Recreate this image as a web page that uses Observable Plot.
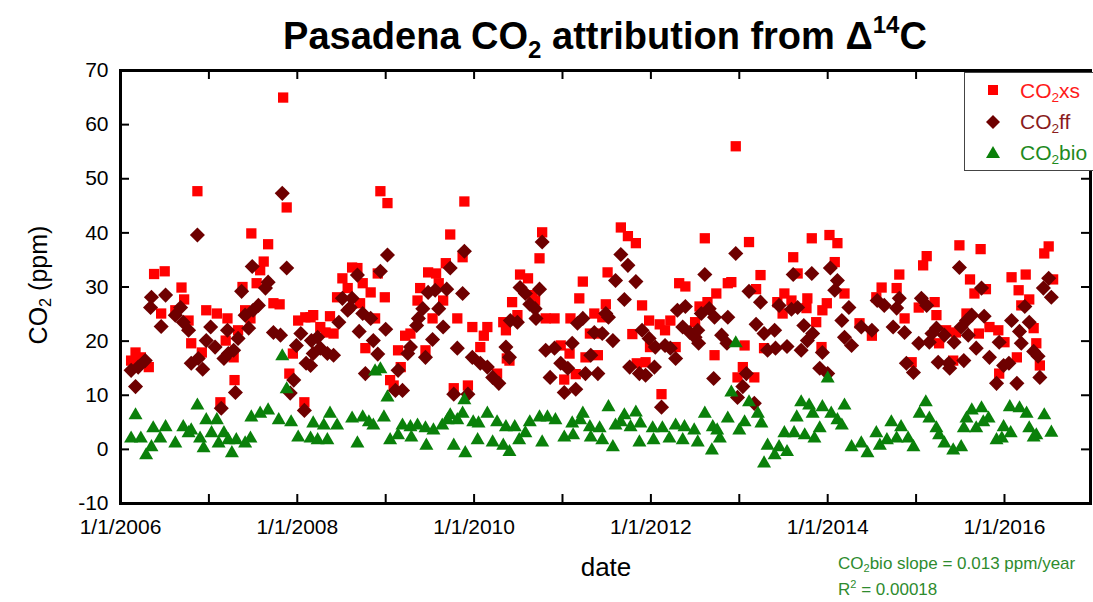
<!DOCTYPE html>
<html>
<head>
<meta charset="utf-8">
<script src="https://cdn.jsdelivr.net/npm/d3@7"></script>
<script src="https://cdn.jsdelivr.net/npm/@observablehq/plot@0.6"></script>
<style>
  html, body { margin: 0; padding: 0; background: #fff; }
  #wrap { position: relative; width: 1093px; height: 602px; overflow: hidden; font-family: "Liberation Sans", Arial, Helvetica, sans-serif; }
  #wrap svg.plot { position: absolute; left: 0; top: 0; }
  .abs { position: absolute; white-space: nowrap; }
  #title { left: 120px; width: 970px; top: 14px; text-align: center; font-weight: bold; font-size: 38px; line-height: 44px; }
  #title sub { font-size: 24px; vertical-align: -9px; line-height: 0; }
  #title sup { font-size: 24px; vertical-align: 16px; line-height: 0; }
  #ylab { left: 38px; top: 285px; transform: translate(-50%, -50%) rotate(-90deg); font-size: 25px; }
  #ylab sub, #legend sub, .note sub { font-size: 65%; vertical-align: -0.3em; line-height: 0; }
  .note sup { font-size: 65%; vertical-align: 0.6em; line-height: 0; }
  #xlab { left: 606px; top: 567px; transform: translate(-50%, -50%); font-size: 26px; }
  #legend { left: 964px; top: 72px; width: 160px; height: 97px; border: 1.3px solid #444; background: #fff; }
  .lg { position: absolute; left: 55px; font-size: 21px; line-height: 21px; }
  .note { left: 838px; font-size: 17px; color: #2e8b2e; }
</style>
</head>
<body>
<div id="wrap">
  <div id="title" class="abs">Pasadena CO<sub>2</sub> attribution from Δ<sup>14</sup>C</div>
  <div id="ylab" class="abs">CO<sub>2</sub> (ppm)</div>
  <div id="xlab" class="abs">date</div>
  <div id="legend" class="abs">
    <svg width="60" height="97" style="position:absolute;left:0;top:0">
      <rect x="23" y="12" width="10" height="10" fill="#ff0000"></rect>
      <path d="M28,42 L35,49 L28,56 L21,49 Z" fill="#6e0000"></path>
      <path d="M28,73 L35,85 L21,85 Z" fill="#0a800a"></path>
    </svg>
    <div class="lg" style="top:7px;color:#ff1a1a">CO<sub>2</sub>xs</div>
    <div class="lg" style="top:38px;color:#8a1c1c">CO<sub>2</sub>ff</div>
    <div class="lg" style="top:69px;color:#1e8a1e">CO<sub>2</sub>bio</div>
  </div>
  <div class="abs note" style="top:554px">CO<sub>2</sub>bio slope = 0.013 ppm/year</div>
  <div class="abs note" style="top:580px">R<sup>2</sup> = 0.00018</div>
</div>
<script>
// ---- data: [decimal year, ppm] ----
const co2xs = [
[2006.12,16.4],[2006.17,17.9],[2006.23,17.0],[2006.32,15.2],[2006.38,32.4],[2006.46,25.1],[2006.50,32.9],[2006.62,25.7],
[2006.69,29.9],[2006.72,27.7],[2006.77,23.8],[2006.80,19.6],[2006.87,47.7],[2006.92,17.9],[2006.97,25.7],[2007.09,25.1],
[2007.13,8.7],[2007.19,20.1],[2007.21,24.2],[2007.28,17.0],[2007.29,12.8],[2007.33,22.0],[2007.38,30.0],[2007.41,25.7],
[2007.47,24.2],[2007.48,39.9],[2007.54,30.7],[2007.58,33.1],[2007.62,34.7],[2007.67,37.9],[2007.73,27.0],[2007.80,26.8],
[2007.84,65.0],[2007.88,44.7],[2007.91,14.0],[2007.95,17.7],[2008.01,23.8],[2008.08,8.7],[2008.09,24.4],[2008.15,24.4],
[2008.18,24.8],[2008.26,22.6],[2008.32,21.6],[2008.37,24.6],[2008.41,21.4],[2008.45,28.1],[2008.51,31.6],[2008.57,29.8],
[2008.62,33.6],[2008.68,33.5],[2008.71,27.0],[2008.74,30.7],[2008.77,18.7],[2008.83,29.0],[2008.88,24.2],[2008.91,32.5],
[2008.94,47.7],[2008.99,28.1],[2009.02,45.5],[2009.05,12.8],[2009.09,11.8],[2009.14,18.3],[2009.17,15.2],[2009.22,21.0],
[2009.28,21.4],[2009.36,27.5],[2009.39,29.8],[2009.45,18.3],[2009.48,32.7],[2009.53,24.2],[2009.57,32.5],[2009.60,30.7],
[2009.65,27.5],[2009.68,34.4],[2009.73,39.7],[2009.77,11.3],[2009.81,24.2],[2009.87,35.5],[2009.89,45.8],[2009.93,11.8],
[2009.98,22.6],[2010.07,18.9],[2010.11,21.0],[2010.15,22.6],[2010.26,14.0],[2010.33,23.5],[2010.36,22.0],[2010.37,16.8],
[2010.40,16.4],[2010.43,27.2],[2010.49,24.8],[2010.52,32.3],[2010.61,31.6],[2010.66,28.5],[2010.69,27.5],[2010.74,35.3],
[2010.77,40.1],[2010.81,24.2],[2010.91,24.2],[2010.98,19.2],[2011.02,12.9],[2011.08,17.7],[2011.09,24.2],[2011.15,13.9],
[2011.19,27.9],[2011.23,31.0],[2011.26,17.0],[2011.31,21.4],[2011.36,25.1],[2011.40,17.4],[2011.42,21.4],[2011.45,24.4],
[2011.49,26.8],[2011.51,32.7],[2011.66,41.0],[2011.74,39.4],[2011.79,21.3],[2011.83,38.1],[2011.84,15.9],[2011.90,26.6],
[2011.94,16.1],[2011.98,23.8],[2011.99,18.9],[2012.10,23.1],[2012.12,10.2],[2012.16,22.0],[2012.22,23.8],[2012.28,18.9],
[2012.32,30.7],[2012.39,30.1],[2012.50,23.5],[2012.55,26.4],[2012.61,39.0],[2012.64,27.2],[2012.72,17.4],[2012.74,28.8],
[2012.87,30.7],[2012.91,30.9],[2012.96,56.0],[2012.98,13.3],[2013.04,15.2],[2013.06,19.2],[2013.11,38.3],[2013.17,13.3],
[2013.19,29.6],[2013.24,32.2],[2013.28,18.7],[2013.43,27.2],[2013.49,25.1],[2013.51,28.8],[2013.59,27.5],[2013.61,35.5],
[2013.66,32.5],[2013.76,26.1],[2013.77,27.9],[2013.82,39.0],[2013.87,23.5],[2013.93,18.9],[2013.94,25.7],[2013.99,27.0],
[2014.02,39.6],[2014.08,34.6],[2014.11,38.1],[2014.19,28.8],[2014.36,23.3],[2014.50,21.0],[2014.55,28.1],[2014.61,29.9],
[2014.78,29.8],[2014.81,32.3],[2014.87,24.2],[2014.95,16.1],[2015.03,26.2],[2015.08,34.0],[2015.12,35.7],[2015.21,27.2],
[2015.23,24.8],[2015.26,19.6],[2015.34,22.0],[2015.42,16.4],[2015.45,21.6],[2015.49,37.7],[2015.57,25.1],[2015.61,31.4],
[2015.66,28.8],[2015.71,21.4],[2015.73,37.0],[2015.79,29.6],[2015.83,22.6],[2015.93,22.0],[2015.94,14.0],[2016.00,19.8],
[2016.08,31.8],[2016.14,17.0],[2016.16,29.4],[2016.19,26.6],[2016.24,32.3],[2016.28,27.7],[2016.33,22.4],[2016.36,19.6],
[2016.40,15.5],[2016.45,36.2],[2016.50,37.5],[2016.55,31.4]
];
const co2ff = [
[2006.12,14.6],[2006.17,11.6],[2006.20,15.2],[2006.28,16.4],[2006.34,26.2],[2006.35,28.1],[2006.46,22.7],[2006.51,28.5],
[2006.62,24.8],[2006.68,26.2],[2006.71,23.5],[2006.77,22.0],[2006.80,15.9],[2006.87,39.6],[2006.88,16.8],[2006.93,14.8],
[2006.97,20.1],[2007.02,22.6],[2007.07,18.9],[2007.14,7.6],[2007.17,16.8],[2007.21,22.0],[2007.22,17.7],[2007.28,18.3],
[2007.30,10.5],[2007.33,20.5],[2007.37,29.2],[2007.41,24.8],[2007.45,22.4],[2007.49,33.8],[2007.50,25.7],[2007.56,26.6],
[2007.64,29.8],[2007.67,30.9],[2007.73,21.6],[2007.81,21.1],[2007.83,47.3],[2007.88,33.5],[2007.92,10.4],[2007.96,12.8],
[2007.99,19.2],[2008.04,21.4],[2008.08,7.2],[2008.10,15.9],[2008.15,15.5],[2008.16,20.1],[2008.18,17.7],[2008.23,20.7],
[2008.26,18.7],[2008.34,17.7],[2008.41,17.4],[2008.47,23.5],[2008.51,27.9],[2008.57,25.7],[2008.60,26.2],[2008.62,27.9],
[2008.68,32.2],[2008.70,21.8],[2008.74,25.1],[2008.77,14.0],[2008.83,24.2],[2008.86,20.1],[2008.91,17.6],[2008.94,32.9],
[2009.00,22.2],[2009.02,35.9],[2009.11,10.9],[2009.14,14.6],[2009.19,10.9],[2009.25,17.7],[2009.28,18.9],[2009.35,22.9],
[2009.37,24.2],[2009.42,26.0],[2009.45,17.0],[2009.48,29.0],[2009.53,20.3],[2009.56,29.4],[2009.60,26.0],[2009.65,22.6],
[2009.69,29.6],[2009.73,33.5],[2009.77,10.2],[2009.81,18.7],[2009.87,28.8],[2009.89,36.6],[2009.93,10.2],[2009.98,17.0],
[2010.07,15.9],[2010.15,15.2],[2010.21,13.3],[2010.28,12.2],[2010.36,18.9],[2010.40,17.0],[2010.41,23.8],[2010.49,23.5],
[2010.52,29.9],[2010.58,28.8],[2010.63,26.8],[2010.69,26.0],[2010.70,24.2],[2010.74,29.6],[2010.77,38.3],[2010.81,18.3],
[2010.86,13.3],[2010.91,18.7],[2010.98,15.9],[2011.02,10.5],[2011.06,15.0],[2011.11,19.6],[2011.15,11.1],[2011.17,23.3],
[2011.23,24.2],[2011.26,14.0],[2011.32,17.4],[2011.36,21.6],[2011.40,14.0],[2011.45,21.4],[2011.49,25.1],[2011.52,24.4],
[2011.57,20.1],[2011.60,31.2],[2011.66,36.0],[2011.70,27.7],[2011.74,34.0],[2011.76,15.2],[2011.83,31.0],[2011.87,14.0],
[2011.90,22.0],[2011.94,13.7],[2011.98,20.5],[2012.04,15.2],[2012.05,18.9],[2012.12,7.8],[2012.16,19.2],[2012.22,18.7],
[2012.28,16.8],[2012.30,25.7],[2012.36,22.6],[2012.39,26.4],[2012.44,21.6],[2012.50,20.7],[2012.53,22.0],[2012.54,19.6],
[2012.57,25.1],[2012.61,32.3],[2012.66,26.0],[2012.71,13.1],[2012.72,24.4],[2012.80,21.1],[2012.86,19.6],[2012.87,24.4],
[2012.96,36.2],[2012.98,9.6],[2013.04,11.6],[2013.08,14.0],[2013.11,29.2],[2013.17,8.5],[2013.19,23.1],[2013.24,27.2],
[2013.28,21.4],[2013.32,18.3],[2013.40,22.0],[2013.41,18.7],[2013.45,26.6],[2013.54,19.0],[2013.59,25.9],[2013.61,32.3],
[2013.66,26.2],[2013.70,18.3],[2013.73,22.9],[2013.77,20.1],[2013.82,32.5],[2013.83,21.4],[2013.91,15.0],[2013.94,17.9],
[2014.00,14.0],[2014.03,33.5],[2014.08,29.4],[2014.11,31.2],[2014.16,23.8],[2014.19,20.7],[2014.24,26.2],[2014.27,19.2],
[2014.38,22.6],[2014.50,22.0],[2014.56,27.5],[2014.64,26.6],[2014.74,22.6],[2014.78,26.1],[2014.81,27.9],[2014.87,21.6],
[2014.89,15.9],[2014.97,14.2],[2015.03,19.6],[2015.06,27.9],[2015.12,26.6],[2015.15,19.8],[2015.18,21.4],[2015.23,22.4],
[2015.25,16.1],[2015.32,21.1],[2015.37,15.9],[2015.38,15.0],[2015.43,19.8],[2015.49,33.6],[2015.51,22.6],[2015.54,16.4],
[2015.57,23.8],[2015.59,21.1],[2015.63,24.8],[2015.68,18.7],[2015.74,29.8],[2015.77,24.6],[2015.83,17.0],[2015.91,12.2],
[2015.94,19.8],[2015.99,15.5],[2016.05,15.9],[2016.08,23.8],[2016.14,12.2],[2016.17,21.8],[2016.19,19.6],[2016.23,26.4],
[2016.28,23.5],[2016.33,18.1],[2016.38,17.2],[2016.40,13.3],[2016.44,29.8],[2016.50,31.6],[2016.53,28.1]
];
const co2bio = [
[2006.12,2.0],[2006.17,6.3],[2006.23,2.0],[2006.29,-1.1],[2006.35,0.4],[2006.37,3.9],[2006.45,2.0],[2006.51,4.1],
[2006.62,1.1],[2006.71,4.1],[2006.77,3.0],[2006.80,3.5],[2006.87,8.1],[2006.90,2.0],[2006.94,0.2],[2006.97,5.4],
[2007.03,3.0],[2007.09,5.4],[2007.11,1.1],[2007.17,3.0],[2007.22,1.7],[2007.26,-0.7],[2007.31,1.7],[2007.41,1.1],
[2007.47,2.0],[2007.48,5.9],[2007.58,6.6],[2007.67,7.2],[2007.79,5.4],[2007.83,17.2],[2007.88,11.1],[2007.93,5.0],
[2008.01,2.2],[2008.15,2.0],[2008.18,4.8],[2008.23,1.7],[2008.30,4.4],[2008.34,1.7],[2008.37,6.6],[2008.45,4.4],
[2008.62,5.7],[2008.68,1.1],[2008.74,5.9],[2008.81,5.0],[2008.86,4.4],[2008.88,14.4],[2008.94,14.8],[2008.98,5.9],
[2009.02,9.6],[2009.05,1.7],[2009.14,2.6],[2009.19,4.4],[2009.28,4.1],[2009.29,2.2],[2009.36,4.4],[2009.45,3.9],
[2009.46,0.7],[2009.54,3.5],[2009.64,4.4],[2009.70,5.4],[2009.73,6.3],[2009.77,0.7],[2009.81,5.4],[2009.87,6.6],
[2009.89,9.1],[2009.90,-0.7],[2009.99,5.0],[2010.04,1.7],[2010.05,4.8],[2010.15,6.6],[2010.21,1.3],[2010.26,5.0],
[2010.33,0.7],[2010.36,4.1],[2010.40,-0.5],[2010.46,4.1],[2010.51,1.7],[2010.58,3.0],[2010.63,5.0],[2010.74,5.9],
[2010.77,1.3],[2010.83,5.9],[2010.92,5.4],[2011.02,2.2],[2011.11,4.8],[2011.12,2.6],[2011.20,5.4],[2011.23,6.6],
[2011.31,4.1],[2011.32,2.2],[2011.42,3.9],[2011.45,1.7],[2011.52,7.8],[2011.57,0.4],[2011.60,4.4],[2011.66,5.0],
[2011.70,6.3],[2011.77,4.1],[2011.83,6.8],[2011.87,1.3],[2011.88,4.8],[2012.02,3.9],[2012.03,1.7],[2012.13,3.9],
[2012.21,2.0],[2012.28,4.4],[2012.36,1.7],[2012.38,4.1],[2012.49,3.5],[2012.53,1.3],[2012.61,6.6],[2012.69,-0.2],
[2012.70,4.1],[2012.75,3.5],[2012.78,2.0],[2012.87,5.7],[2012.91,10.5],[2012.96,19.6],[2013.00,3.5],[2013.06,5.0],
[2013.11,8.7],[2013.21,6.6],[2013.25,4.8],[2013.28,-2.6],[2013.32,0.7],[2013.40,-1.1],[2013.45,0.4],[2013.51,3.0],
[2013.54,-0.5],[2013.62,3.0],[2013.65,5.9],[2013.70,8.7],[2013.74,2.6],[2013.79,8.1],[2013.83,6.6],[2013.85,2.0],
[2013.91,3.9],[2013.94,7.8],[2014.00,13.1],[2014.04,6.6],[2014.11,5.4],[2014.16,4.4],[2014.19,8.1],[2014.27,0.4],
[2014.38,1.1],[2014.45,-0.7],[2014.55,3.0],[2014.59,0.7],[2014.67,1.7],[2014.72,5.0],[2014.78,2.0],[2014.83,4.1],
[2014.91,2.0],[2014.97,0.4],[2015.04,6.6],[2015.11,8.7],[2015.15,5.7],[2015.23,3.9],[2015.26,2.6],[2015.32,1.1],
[2015.42,-0.2],[2015.51,0.4],[2015.54,3.9],[2015.57,5.7],[2015.63,7.2],[2015.68,3.9],[2015.74,7.6],[2015.76,5.0],
[2015.82,5.7],[2015.91,1.7],[2015.97,2.0],[2015.99,4.1],[2016.06,7.8],[2016.07,3.0],[2016.17,7.6],[2016.25,6.6],
[2016.28,3.9],[2016.33,2.2],[2016.36,2.6],[2016.45,6.3],[2016.53,3.1]
];
// ---- axes ----
const xDomain = [2006, 2016.973];
const yDomain = [-10, 70];
const yearTicks = [2006, 2007, 2008, 2009, 2010, 2011, 2012, 2013, 2014, 2015, 2016];
const yearLabels = [2006, 2008, 2010, 2012, 2014, 2016];
const yTicks = [-10, 0, 10, 20, 30, 40, 50, 60, 70];

const W = 1093, H = 602, mL = 120, mR = 3, mT = 70, mB = 99;
const pw = W - mL - mR, ph = H - mT - mB;

const chart = Plot.plot({
  width: W, height: H,
  marginLeft: mL, marginRight: mR, marginTop: mT, marginBottom: mB,
  x: {domain: xDomain},
  y: {domain: yDomain},
  style: {fontFamily: '"Liberation Sans", Arial, sans-serif', fontSize: "21px", color: "black", background: "transparent", overflow: "visible"},
  marks: [
    Plot.axisX(yearLabels, {anchor: "bottom", tickSize: 0, tickPadding: 16, tickFormat: d => `1/1/${d}`, label: null, fontSize: 21}),
    Plot.axisY(yTicks, {anchor: "left", tickSize: 0, tickPadding: 12, tickFormat: d => `${d}`, label: null, fontSize: 21}),
    Plot.tickX(yearTicks, {x: d => d, insetTop: ph - 9, stroke: "black", strokeWidth: 2}),
    Plot.tickX(yearTicks, {x: d => d, insetBottom: ph - 9, stroke: "black", strokeWidth: 2}),
    Plot.tickY(yTicks, {y: d => d, insetRight: pw - 9, stroke: "black", strokeWidth: 2}),
    Plot.tickY(yTicks, {y: d => d, insetLeft: pw - 9, stroke: "black", strokeWidth: 2}),
    Plot.dot(co2xs, {x: d => d[0], y: d => d[1], symbol: "square", r: 5.8, fill: "#ff0000", stroke: "none"}),
    Plot.dot(co2ff, {x: d => d[0], y: d => d[1], symbol: "diamond2", r: 6.8, fill: "#6e0000", stroke: "none"}),
    Plot.dot(co2bio, {x: d => d[0], y: d => d[1], symbol: "triangle", r: 5.2, fill: "#0a800a", stroke: "none"}),
    Plot.frame({stroke: "black", strokeWidth: 3})
  ]
});
document.getElementById("wrap").prepend(chart);
</script>
</body>
</html>
